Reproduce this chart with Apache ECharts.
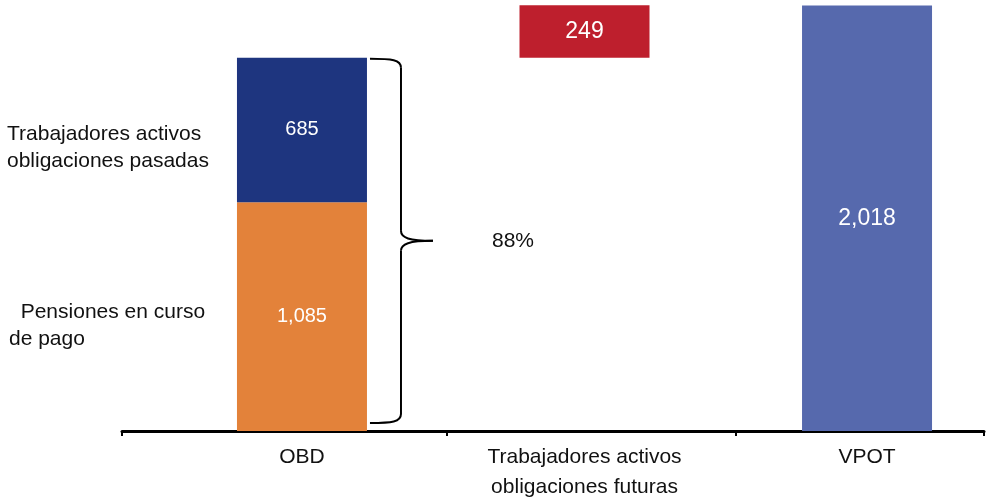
<!DOCTYPE html>
<html>
<head>
<meta charset="utf-8">
<script src="https://cdn.jsdelivr.net/npm/echarts@6/dist/echarts.min.js"></script>
<style>
html,body{margin:0;padding:0;background:#fff;}
#chart{width:987px;height:502px;}
</style>
</head>
<body>
<div id="chart"></div>
<script>
// ---- data ----
const categories = ['OBD', 'Trabajadores activos\nobligaciones futuras', 'VPOT'];
const pensionesCurso = 1085;      // OBD, lower segment
const activosPasadas = 685;       // OBD, upper segment
const activosFuturas = 249;       // floating increment
const vpot = 2018;                // total
const segmentLabels = ['Trabajadores activos\nobligaciones pasadas', '  Pensiones en curso\nde pago'];
const shareText = '88%';

const FONT = '"Liberation Sans", Arial, Helvetica, sans-serif';
const obdTotal = pensionesCurso + activosPasadas;
const fmt = v => Number(v).toLocaleString('en-US');

// segments: [categoryIndex, start, end]
const segData = [
  [0, 0, pensionesCurso],
  [0, pensionesCurso, obdTotal],
  [1, obdTotal, obdTotal + activosFuturas],
  [2, 0, vpot]
];
const segValues = [pensionesCurso, activosPasadas, activosFuturas, vpot];
const segColors = ['#E3823A', '#1E357F', '#BE1F2D', '#5669AD'];
const segFont = [20, 20, 23, 23];

const chart = echarts.init(document.getElementById('chart'), null, {renderer: 'canvas'});

const xMin = -0.637, xMax = 2.414;
const tickVals = [xMin, 0.513, 1.536, xMax];
const BAR_W = 130;

const option = {
  animation: false,
  backgroundColor: '#fff',
  grid: {left: 122, right: 3, top: 5, bottom: 69},
  xAxis: {
    type: 'value', min: xMin, max: xMax,
    splitLine: {show: false},
    axisLine: {show: true, onZero: false, lineStyle: {color: '#000', width: 3}},
    axisTick: {show: true, customValues: tickVals, length: 5, lineStyle: {color: '#000', width: 2}},
    axisLabel: {
      customValues: [0, 1, 2], margin: 11, color: '#111', fontSize: 21, fontFamily: FONT,
      lineHeight: 30, verticalAlign: 'top',
      formatter: v => categories[Math.round(v)]
    }
  },
  yAxis: {type: 'value', min: 0, max: 2020, show: false, splitLine: {show: false}},
  series: [{
    type: 'custom',
    encode: {x: 0, y: [1, 2]},
    data: segData,
    z: 2,
    renderItem: function (params, api) {
      const i = params.dataIndex;
      const s = api.coord([api.value(0), api.value(1)]);
      const e = api.coord([api.value(0), api.value(2)]);
      return {
        type: 'rect',
        shape: {x: s[0] - BAR_W / 2, y: e[1], width: BAR_W, height: s[1] - e[1]},
        style: {fill: segColors[i]},
        textContent: {style: {text: fmt(segValues[i]), fill: '#fff', font: segFont[i] + 'px ' + FONT}},
        textConfig: {position: 'inside'}
      };
    }
  }]
};
chart.setOption(option);

// brace and annotations
const pTop = chart.convertToPixel({gridIndex: 0}, [0, obdTotal]);
const pBot = chart.convertToPixel({gridIndex: 0}, [0, 0]);
const bx0 = pTop[0] + BAR_W / 2 + 3;
const bxv = bx0 + 31;
const bxt = bx0 + 63;
const byTop = pTop[1] + 1;
const byBot = pBot[1] - 8;
const byMid = (byTop + byBot) / 2;
const bs = {stroke: '#000', lineWidth: 2, fill: null};

chart.setOption({
  graphic: [
    {type: 'bezierCurve', z: 10, style: bs, shape: {x1: bx0, y1: byTop, cpx1: bx0 + 22, cpy1: byTop, cpx2: bxv, cpy2: byTop + 1, x2: bxv, y2: byTop + 9}},
    {type: 'line', z: 10, style: bs, shape: {x1: bxv, y1: byTop + 9, x2: bxv, y2: byMid - 10}},
    {type: 'bezierCurve', z: 10, style: bs, shape: {x1: bxv, y1: byMid - 10, cpx1: bxv, cpy1: byMid - 3, cpx2: bxv + 8, cpy2: byMid, x2: bxt, y2: byMid}},
    {type: 'bezierCurve', z: 10, style: bs, shape: {x1: bxt, y1: byMid, cpx1: bxv + 8, cpy1: byMid, cpx2: bxv, cpy2: byMid + 3, x2: bxv, y2: byMid + 10}},
    {type: 'line', z: 10, style: bs, shape: {x1: bxv, y1: byMid + 10, x2: bxv, y2: byBot - 9}},
    {type: 'bezierCurve', z: 10, style: bs, shape: {x1: bxv, y1: byBot - 9, cpx1: bxv, cpy1: byBot - 1, cpx2: bx0 + 22, cpy2: byBot, x2: bx0, y2: byBot}},
    {type: 'text', x: bxt + 59, y: byMid, z: 10, style: {text: shareText, font: `21px ${FONT}`, fill: '#111', verticalAlign: 'middle'}},
    {type: 'text', x: 7, y: 148, z: 10, style: {text: segmentLabels[0], font: `21px ${FONT}`, fill: '#111', verticalAlign: 'middle', lineHeight: 27}},
    {type: 'text', x: 9, y: 326, z: 10, style: {text: segmentLabels[1], font: `21px ${FONT}`, fill: '#111', verticalAlign: 'middle', lineHeight: 27}}
  ]
});
</script>
</body>
</html>
